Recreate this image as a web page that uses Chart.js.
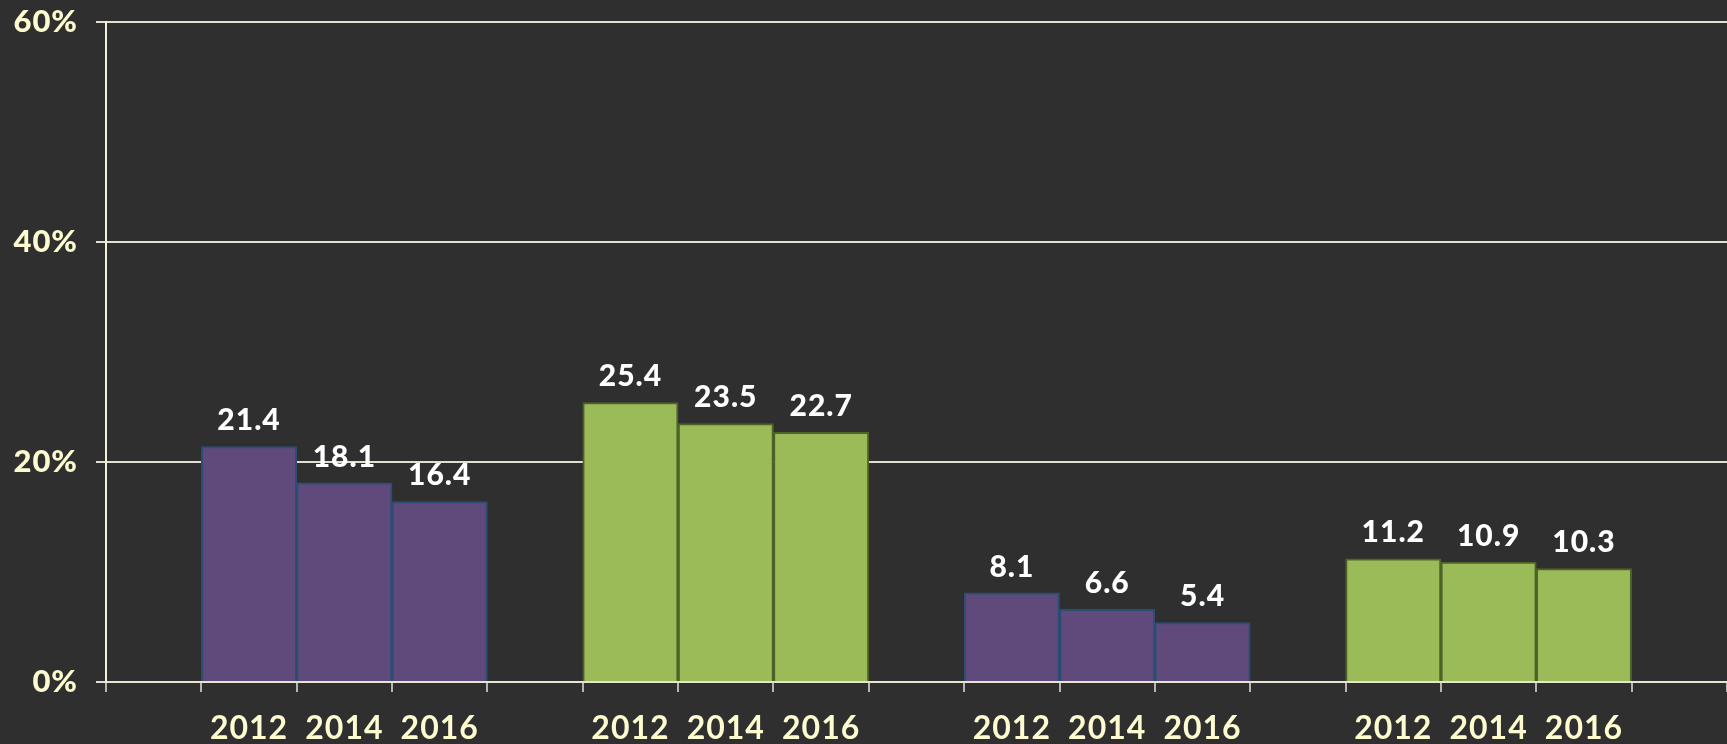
<!DOCTYPE html>
<html>
<head>
<meta charset="utf-8">
<script src="https://cdn.jsdelivr.net/npm/chart.js@4"></script>
<style>
  html, body { margin: 0; padding: 0; background: #2f2f2f; }
  #wrap { width: 1727px; height: 744px; }
</style>
</head>
<body>
<div id="wrap"><canvas id="bars" width="1727" height="744"></canvas></div>
<script>
// Three survey years per group, four groups separated by an empty slot
const years = ['2012', '2014', '2016'];
const purpleA = [21.4, 18.1, 16.4];
const greenA = [25.4, 23.5, 22.7];
const purpleB = [8.1, 6.6, 5.4];
const greenB = [11.2, 10.9, 10.3];
const yTicks = [0, 20, 40, 60];

const PURPLE = '#604a7b';
const PURPLE_EDGE = '#2c4d75';
const GREEN = '#9bbb59';
const GREEN_EDGE = '#4f6228';

// lay out the 17 category slots: gap, group, gap, group, ... gap
const groups = [
    { values: purpleA, kind: 'purple' },
    { values: greenA, kind: 'green' },
    { values: purpleB, kind: 'purple' },
    { values: greenB, kind: 'green' }
];
const labels = [''];
const purpleData = [null];
const greenData = [null];
groups.forEach((g) => {
    g.values.forEach((v, i) => {
        labels.push(years[i]);
        purpleData.push(g.kind === 'purple' ? v : null);
        greenData.push(g.kind === 'green' ? v : null);
    });
    labels.push('');
    purpleData.push(null);
    greenData.push(null);
});

// widen the lettering a little, like the titling face
const spacing = {
    id: 'spacing',
    beforeInit(chart) { chart.ctx.letterSpacing = '1px'; },
    beforeDraw(chart) { chart.ctx.letterSpacing = '1px'; }
};

const valueLabels = {
    id: 'valueLabels',
    afterDatasetsDraw(chart) {
        const ctx = chart.ctx;
        ctx.save();
        ctx.fillStyle = '#ffffff';
        ctx.font = '900 30px Lato';
        ctx.textAlign = 'center';
        ctx.textBaseline = 'bottom';
        chart.data.datasets.forEach((ds, di) => {
            const meta = chart.getDatasetMeta(di);
            meta.data.forEach((bar, i) => {
                const v = ds.data[i];
                if (v == null) return;
                ctx.fillText(v.toFixed(1), bar.x, bar.y - 11);
            });
        });
        ctx.restore();
    }
};

new Chart(document.getElementById('bars'), {
    type: 'bar',
    data: {
        labels: labels,
        datasets: [
            {
                data: purpleData,
                backgroundColor: PURPLE,
                borderColor: PURPLE_EDGE,
                borderWidth: 2,
                borderSkipped: 'bottom'
            },
            {
                data: greenData,
                backgroundColor: GREEN,
                borderColor: GREEN_EDGE,
                borderWidth: 2,
                borderSkipped: 'bottom'
            }
        ]
    },
    options: {
        responsive: false,
        animation: false,
        grouped: false,
        categoryPercentage: 1,
        barPercentage: 1,
        layout: { padding: { top: 22, right: 0, left: 0, bottom: 0 } },
        plugins: {
            legend: { display: false },
            tooltip: { enabled: false }
        },
        scales: {
            x: {
                afterFit: (scale) => {
                    scale.height = 62;
                    scale.paddingLeft = 0;
                    scale.paddingRight = 0;
                },
                grid: {
                    offset: true,
                    drawOnChartArea: false,
                    drawTicks: true,
                    tickLength: 10,
                    color: '#b8b6ac',
                    lineWidth: 2
                },
                border: { color: '#e8e4d2', width: 2 },
                ticks: {
                    color: '#fdfbcf',
                    font: { family: 'Lato', size: 32, weight: 'bold' },
                    padding: 17,
                    autoSkip: false,
                    maxRotation: 0
                }
            },
            y: {
                min: 0,
                max: 60,
                afterFit: (scale) => {
                    scale.width = 106;
                    scale.paddingTop = 0;
                    scale.paddingBottom = 0;
                },
                afterBuildTicks: (scale) => {
                    scale.ticks = yTicks.map((v) => ({ value: v }));
                },
                grid: {
                    color: '#e2dfd2',
                    lineWidth: 2,
                    tickLength: 10
                },
                border: { color: '#f3f0d8', width: 2 },
                ticks: {
                    color: '#fdfbcf',
                    font: { family: 'Lato', size: 31, weight: '900' },
                    padding: 18,
                    callback: (v) => v + '%'
                }
            }
        }
    },
    plugins: [spacing, valueLabels]
});
</script>
</body>
</html>
